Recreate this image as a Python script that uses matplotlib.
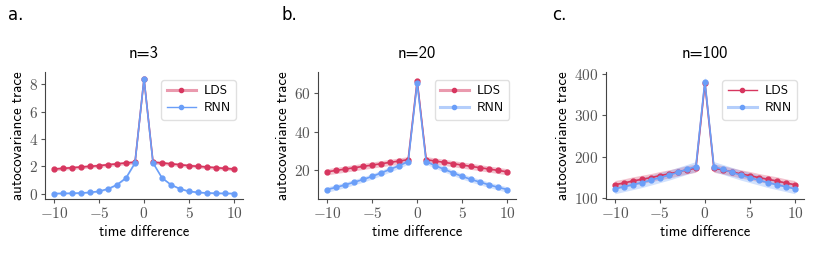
import numpy as np
import matplotlib
matplotlib.use("Agg")
import matplotlib.pyplot as plt
from matplotlib.ticker import FuncFormatter
from matplotlib.lines import Line2D

plt.rcParams["mathtext.fontset"] = "cm"
plt.rcParams["font.family"] = ["cmss10", "DejaVu Sans"]
plt.rcParams["axes.unicode_minus"] = False

lags = np.arange(-10, 11)
titles = ["n=3", "n=20", "n=100"]
panel_tags = ["a.", "b.", "c."]

# one side (lag 1..10), mirrored for negative lags; peak value at lag 0
lds_3_side = [2.3, 2.25, 2.18, 2.12, 2.05, 2.0, 1.95, 1.9, 1.85, 1.8]
rnn_3_side = [2.25, 1.15, 0.65, 0.35, 0.17, 0.09, 0.05, 0.03, 0.02, 0.01]
lds_3_peak, rnn_3_peak = 8.4, 8.4
lds_3_err, rnn_3_err = 0.13, 0.06

lds_20_side = [25.5, 24.8, 24.1, 23.4, 22.7, 22.0, 21.3, 20.6, 19.9, 19.2]
rnn_20_side = [24.5, 22.4, 20.5, 18.6, 16.8, 15.2, 13.8, 12.4, 11.1, 10.0]
lds_20_peak, rnn_20_peak = 66.5, 65.5
lds_20_err, rnn_20_err = 1.6, 1.4

lds_100_side = [172, 168, 163, 158, 154, 149, 145, 141, 136, 132]
rnn_100_side = [176, 169, 162, 155, 149, 143, 137, 132, 127, 122]
lds_100_peak, rnn_100_peak = 378, 382
lds_100_err, rnn_100_err = 10, 12

ylims = [(-0.4, 8.9), (5, 71), (97, 405)]
yticks = [[0, 2, 4, 6, 8], [20, 40, 60], [100, 200, 300, 400]]
# which legend handles show the faded band stroke (LDS, RNN)
faded_handles = [(True, False), (True, True), (False, True)]

LDS_C = "#d7365f"
RNN_C = "#6a9ef8"


def full_curve(side, peak):
    side = list(side)
    return np.array(side[::-1] + [peak] + side)


def legend_handle(color, faded):
    dot = Line2D([], [], color=color, marker="o", ms=3, lw=1.0)
    if not faded:
        return dot
    band = Line2D([], [], color=color, lw=2.2, alpha=0.5)
    dot_only = Line2D([], [], color=color, marker="o", ms=3, lw=0)
    return (band, dot_only)


panels = [
    (lds_3_side, lds_3_peak, lds_3_err, rnn_3_side, rnn_3_peak, rnn_3_err),
    (lds_20_side, lds_20_peak, lds_20_err, rnn_20_side, rnn_20_peak, rnn_20_err),
    (lds_100_side, lds_100_peak, lds_100_err, rnn_100_side, rnn_100_peak, rnn_100_err),
]

fig = plt.figure(figsize=(8.22, 2.68), dpi=100)
lefts = [0.0547, 0.387, 0.737]
tag_x = [0.010, 0.343, 0.672]
math_fmt = FuncFormatter(lambda v, pos: r"$%g$" % v)

for i, (ls, lp, le, rs, rp, re_) in enumerate(panels):
    ax = fig.add_axes([lefts[i], 0.257, 0.241, 0.474])
    lds = full_curve(ls, lp)
    rnn = full_curve(rs, rp)
    ax.fill_between(lags, lds - le, lds + le, color=LDS_C, alpha=0.3, lw=0)
    ax.plot(lags, lds, "-o", color=LDS_C, ms=3.5, lw=1.2)
    ax.fill_between(lags, rnn - re_, rnn + re_, color=RNN_C, alpha=0.3, lw=0)
    ax.plot(lags, rnn, "-o", color=RNN_C, ms=3.5, lw=1.2)
    ax.set_ylim(*ylims[i])
    ax.set_xlim(-11, 11)
    ax.set_xticks([-10, -5, 0, 5, 10])
    ax.set_yticks(yticks[i])
    ax.xaxis.set_major_formatter(math_fmt)
    ax.yaxis.set_major_formatter(math_fmt)
    ax.tick_params(labelsize=11, colors="#555555", length=3, pad=2)
    for s in ["top", "right"]:
        ax.spines[s].set_visible(False)
    for s in ["left", "bottom"]:
        ax.spines[s].set_color("#444444")
    ax.set_xlabel("time difference", fontsize=10.5, labelpad=3)
    ax.set_ylabel("autocovariance trace", fontsize=10.8, labelpad=3)
    ax.set_title(titles[i], fontsize=12, pad=10)
    fl, fr = faded_handles[i]
    ax.legend([legend_handle(LDS_C, fl), legend_handle(RNN_C, fr)], ["LDS", "RNN"],
              loc="upper right", fontsize=9.5, handlelength=2.2, handletextpad=0.6,
              borderaxespad=0.3, labelspacing=0.35, bbox_to_anchor=(0.985, 0.97),
              edgecolor="#dddddd", framealpha=0.9)
    fig.text(tag_x[i], 0.925, panel_tags[i], fontsize=12, family="DejaVu Sans")

fig.savefig("out.png", dpi=100)
